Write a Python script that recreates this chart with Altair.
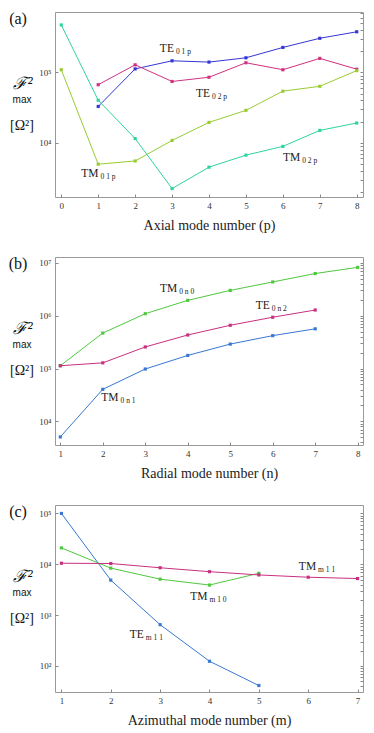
import altair as alt
import pandas as pd

# ---------------- data ----------------
# Panel (a): axial mode number p
a_x = [0, 1, 2, 3, 4, 5, 6, 7, 8]
a_te01p = [None, 32800, 112000, 146000, 140000, 161000, 226000, 305000, 377000]
a_te02p = [None, 66800, 128000, 74300, 85300, 137000, 109000, 158000, 111000]
a_tm01p = [109000, 4970, 5520, 10800, 19500, 28900, 54100, 63400, 106000]
a_tm02p = [471000, 40200, 11500, 2240, 4510, 6680, 8890, 15000, 19100]

# Panel (b): radial mode number n
b_x = [1, 2, 3, 4, 5, 6, 7, 8]
b_tm0n0 = [113000, 469000, 1090000, 1950000, 3010000, 4350000, 6280000, 8210000]
b_te0n2 = [113000, 128000, 256000, 431000, 658000, 935000, 1280000, None]
b_tm0n1 = [5080, 40400, 97900, 177000, 290000, 419000, 564000, None]

# Panel (c): azimuthal mode number m
c_x = [1, 2, 3, 4, 5, 6, 7]
c_tem11 = [100000, 4880, 649, 124, 41.3, None, None]
c_tmm10 = [21000, 8410, 5100, 3910, 6650, None, None]
c_tmm11 = [10500, 10350, 8550, 7160, 6180, 5570, 5250]

# Curve labels: (x, y, main, subscript)
a_labels = [(3.05, 215000, "TE", "0 1 p"), (4.03, 49600, "TE", "0 2 p"),
            (1.01, 3570, "TM", "0 1 p"), (6.47, 6070, "TM", "0 2 p")]
b_labels = [(3.75, 3150000, "TM", "0 n 0"), (5.93, 1530000, "TE", "0 n 2"),
            (2.37, 27500, "TM", "0 n 1")]
c_labels = [(6.16, 9000, "TM", "m 1 1"), (3.96, 2290, "TM", "m 1 0"),
            (2.67, 403, "TE", "m 1 1")]

SERIF = "Liberation Serif"
SUP = {1: "¹", 2: "²", 3: "³", 4: "⁴", 5: "⁵", 6: "⁶", 7: "⁷"}
W = 308


def panel(series, xvals, colors, widths, xdom, ydom, decades, labels, letter, xtitle, H):
    rows = []
    for name, vals in series.items():
        for xv, v in zip(xvals, vals):
            if v is not None:
                rows.append({"x": xv, "y": v, "s": name})
    df = pd.DataFrame(rows)
    names = list(series)
    xs = alt.Scale(domain=xdom, nice=False, zero=False)
    ys = alt.Scale(type="log", domain=ydom, nice=False)
    color = alt.Color("s:N", scale=alt.Scale(domain=names, range=colors), legend=None)
    sw = alt.StrokeWidth("s:N", scale=alt.Scale(domain=names, range=widths), legend=None)

    majors = [10 ** d for d in decades]
    expr = " : ".join(f"datum.value == {10 ** d} ? '10{SUP[d]}'" for d in decades) + " : ''"
    minors = []
    for d in range(min(decades) - 2, max(decades) + 2):
        for k in range(1, 10):
            v = k * 10 ** d
            if ydom[0] <= v <= ydom[1]:
                minors.append(v)

    x_enc = alt.X("x:Q", scale=xs, axis=alt.Axis(
        values=xvals, format="d", title=xtitle, domain=False, grid=False,
        tickSize=3, offset=-3, tickColor="#888", labelPadding=4,
        labelFont=SERIF, labelFontSize=9, labelColor="#333",
        titleFont=SERIF, titleFontSize=14, titleFontWeight="normal",
        titleColor="#222", titlePadding=8))
    y_left = alt.Y("y:Q", scale=ys, axis=alt.Axis(
        values=majors, labelExpr=expr, title=None, domain=False, grid=False,
        tickSize=3, offset=-3, tickColor="#888", labelPadding=4,
        labelFont=SERIF, labelFontSize=9, labelColor="#333"))
    y_none = alt.Y("y:Q", scale=ys, axis=None)
    y_right = alt.Y("y:Q", scale=ys, axis=alt.Axis(
        orient="right", values=minors, labels=False, title=None, domain=False,
        grid=False, tickSize=2.5, offset=-3, tickColor="#888"))

    base = alt.Chart(df)
    lines = base.mark_line().encode(x=x_enc, y=y_left, color=color, strokeWidth=sw, detail="s:N")
    pts = base.mark_square(size=10, opacity=1).encode(x=x_enc, y=y_none, color=color)
    right = base.mark_point(opacity=0).encode(x=x_enc, y=y_right)

    ldf = pd.DataFrame(labels, columns=["x", "y", "main", "sub"])
    lb = alt.Chart(ldf)
    main_t = lb.mark_text(align="right", baseline="middle", font=SERIF, fontSize=11.5,
                          color="#222").encode(x=x_enc, y=y_none, text="main:N")
    sub_t = lb.mark_text(align="left", baseline="middle", font=SERIF, fontSize=7.5,
                         dx=2, dy=3, color="#222").encode(x=x_enc, y=y_none, text="sub:N")

    one = alt.Chart(pd.DataFrame({"k": [0]}))
    letter_t = one.mark_text(font=SERIF, fontSize=16, color="#111", align="center",
                             baseline="middle").encode(
        x=alt.value(-37), y=alt.value(7), text=alt.value(letter))
    f_t = one.mark_text(font=SERIF, fontSize=17, fontStyle="italic", color="#111",
                        align="center", baseline="middle").encode(
        x=alt.value(-32), y=alt.value(72), text=alt.value("ℱ²"))
    max_t = one.mark_text(font="Liberation Sans", fontSize=10, color="#111",
                          align="center", baseline="middle").encode(
        x=alt.value(-33), y=alt.value(88), text=alt.value("max"))
    om_t = one.mark_text(font=SERIF, fontSize=14, color="#111", align="center",
                         baseline="middle").encode(
        x=alt.value(-33), y=alt.value(114), text=alt.value("[Ω²]"))

    return alt.layer(lines, pts, right, main_t, sub_t, letter_t, f_t, max_t, om_t).resolve_axis(
        y="independent").properties(width=W, height=H)


pa = panel({"TE01p": a_te01p, "TE02p": a_te02p, "TM01p": a_tm01p, "TM02p": a_tm02p},
           a_x, ["#3535d5", "#d0307f", "#9acb33", "#2fd3a2"], [1, 1, 1, 1],
           [-0.17, 8.17], [1700, 720000], [4, 5], a_labels, "(a)",
           "Axial mode number (p)", 185)
pb = panel({"TM0n0": b_tm0n0, "TE0n2": b_te0n2, "TM0n1": b_tm0n1},
           b_x, ["#4fc83f", "#c8307f", "#3878d2"], [1, 1, 1],
           [0.875, 8.125], [3570, 12900000], [4, 5, 6, 7], b_labels, "(b)",
           "Radial mode number (n)", 188)
pc = panel({"TEm11": c_tem11, "TMm10": c_tmm10, "TMm11": c_tmm11},
           c_x, ["#3878d2", "#4fc83f", "#c8307f"], [1, 1, 1.6],
           [0.87, 7.11], [30.8, 146600], [2, 3, 4, 5], c_labels, "(c)",
           "Azimuthal mode number (m)", 187)

chart = alt.vconcat(pa, pb, pc, spacing=22).resolve_scale(
    color="independent", strokeWidth="independent"
).properties(
    padding={"left": 0, "top": 2, "right": 0, "bottom": 0}
).configure_view(stroke="#999", strokeWidth=1)

chart.save("out.html", embed_options={"renderer": "svg", "actions": False})
